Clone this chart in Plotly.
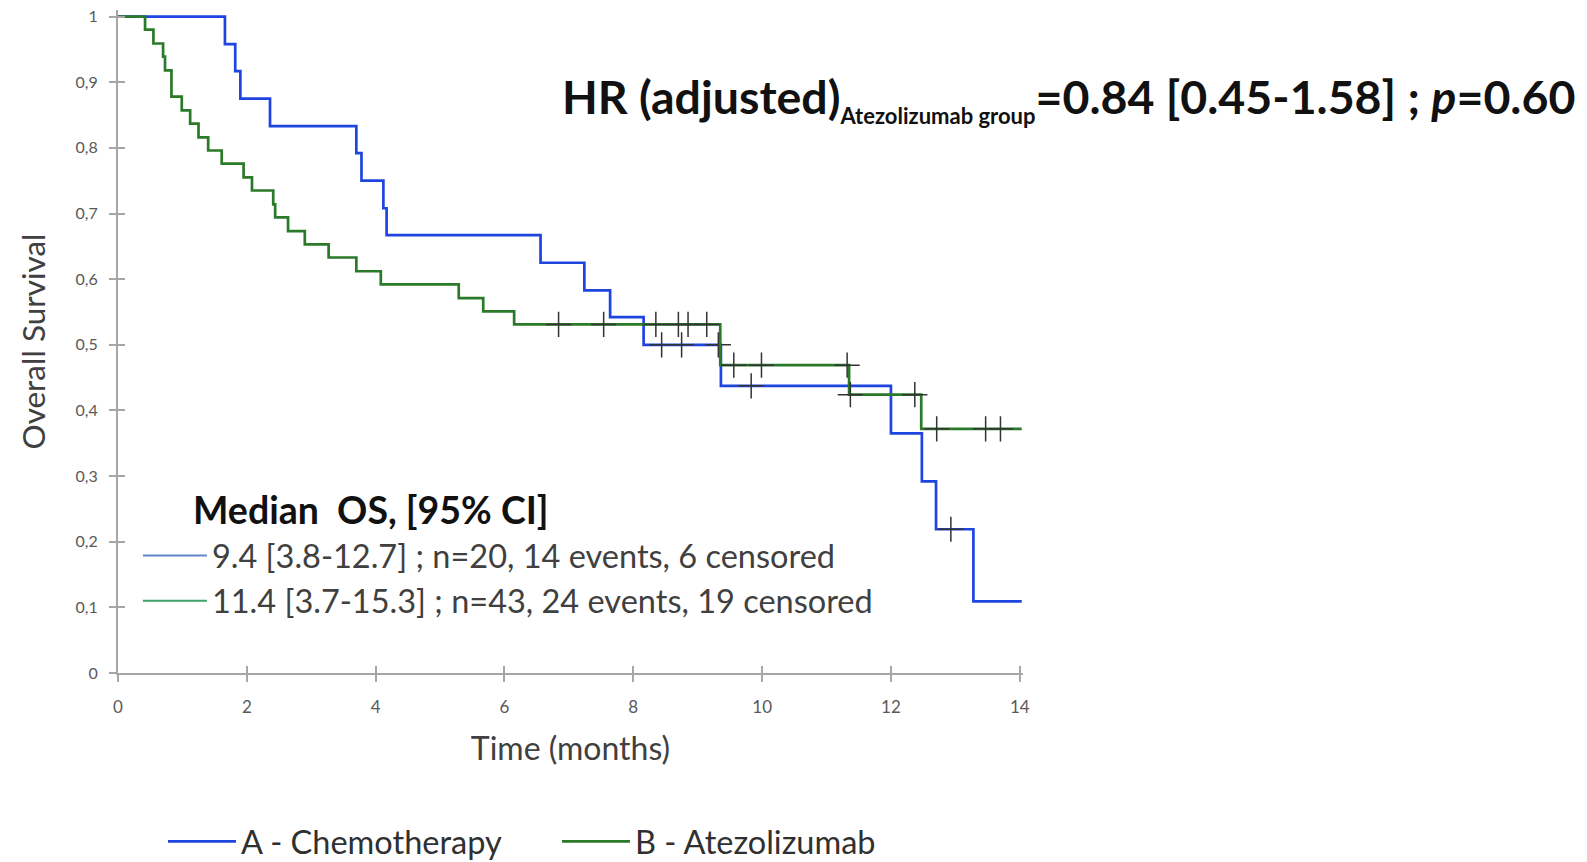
import numpy as np
import plotly.graph_objects as go

# ---------------- data ----------------
chemo_times  = [1.66, 1.82, 1.90, 2.36, 3.70, 3.78, 4.12, 4.17, 6.56, 7.24, 7.64, 8.16, 9.36, 12.00, 12.48, 12.70, 13.28]
chemo_surv   = [0.958, 0.917, 0.875, 0.833, 0.792, 0.750, 0.708, 0.667, 0.625, 0.583, 0.542, 0.500, 0.4375, 0.365, 0.292, 0.219, 0.109]
chemo_end    = 14.03
chemo_censor = [8.44, 8.75, 9.32, 9.83, 12.93]

atezo_times  = [0.42, 0.55, 0.70, 0.73, 0.83, 0.99, 1.12, 1.25, 1.40, 1.61, 1.95, 2.08, 2.41, 2.44,
                2.64, 2.90, 3.27, 3.70, 4.08, 5.29, 5.67, 6.15, 9.35, 11.35, 12.47]
atezo_surv   = [0.980, 0.959, 0.939, 0.918, 0.878, 0.857, 0.837, 0.816, 0.796, 0.776, 0.755, 0.735, 0.714, 0.694,
                0.673, 0.653, 0.633, 0.612, 0.592, 0.571, 0.551, 0.531, 0.469, 0.424, 0.372]
atezo_end    = 14.03
atezo_censor = [6.84, 7.54, 8.35, 8.70, 8.85, 9.14, 9.56, 9.99, 11.32, 11.37, 12.37, 12.71, 13.47, 13.70]

x_ticks = [0, 2, 4, 6, 8, 10, 12, 14]
y_ticks = [0, 0.1, 0.2, 0.3, 0.4, 0.5, 0.6, 0.7, 0.8, 0.9, 1]

series_names = ["A - Chemotherapy", "B - Atezolizumab"]
median_labels = ["9.4 [3.8-12.7] ; n=20, 14 events, 6 censored",
                 "11.4 [3.7-15.3] ; n=43, 24 events, 19 censored"]

BLUE = "#1f45e0"
GREEN = "#2a7a2a"
FONT = "Lato"

def km_xy(times, surv, end):
    x = [0.0] + list(times) + [end]
    y = [1.0] + list(surv) + [surv[-1]]
    return x, y

def surv_at(times, surv, t):
    idx = np.searchsorted(np.array(times), t, side="right")
    return 1.0 if idx == 0 else surv[idx - 1]

fig = go.Figure()

for name, times, surv, end, cens, col in [
    (series_names[0], chemo_times, chemo_surv, chemo_end, chemo_censor, BLUE),
    (series_names[1], atezo_times, atezo_surv, atezo_end, atezo_censor, GREEN),
]:
    x, y = km_xy(times, surv, end)
    fig.add_trace(go.Scatter(x=x, y=y, mode="lines", line=dict(color=col, width=2.7, shape="hv"),
                             name=name, legend="legend"))
    fig.add_trace(go.Scatter(x=cens, y=[surv_at(times, surv, t) for t in cens], mode="markers",
                             marker=dict(symbol="cross-thin", size=18, line=dict(color="#333333", width=1.5)),
                             showlegend=False, hoverinfo="skip"))

# inner "Median OS" legend entries
for lab, col in zip(median_labels, ["#6385c8", "#3ea066"]):
    fig.add_trace(go.Scatter(x=[None], y=[None], mode="lines", line=dict(color=col, width=2),
                             name=lab, legend="legend2"))

W, H = 1587, 862
L, R_px, T_px, B_px = 118, 1023.4, 10.4, 673
XMAX, YMAX = 14.05, 1.01

axis_common = dict(showgrid=False, zeroline=False, showline=True, linecolor="#a6a6a6", linewidth=2,
                   ticks="outside", ticklen=7, tickcolor="#a6a6a6", tickwidth=1.5)
fig.update_layout(
    width=W, height=H,
    margin=dict(l=L, r=W - R_px, t=T_px, b=H - B_px, pad=0, autoexpand=False),
    paper_bgcolor="white", plot_bgcolor="white",
    separators=", ",
    font=dict(family=FONT, color="#404040"),
    xaxis=dict(range=[0, XMAX], tickvals=x_ticks, ticklabelstandoff=11,
               tickfont=dict(size=17, color="#595959", family=FONT),
               title=dict(text="Time (months)", font=dict(size=32, color="#404040"), standoff=21),
               **axis_common),
    yaxis=dict(range=[0, YMAX], tickvals=y_ticks, ticklabelstandoff=8,
               tickfont=dict(size=16, color="#595959", family=FONT),
               title=dict(text="Overall Survival", font=dict(size=31.5, color="#404040"), standoff=21),
               **axis_common),
    # inner tick halves so ticks cross the axis lines
    xaxis2=dict(range=[0, XMAX], tickvals=x_ticks, overlaying="x", anchor="y", side="bottom",
                showgrid=False, zeroline=False, showline=False, showticklabels=False,
                ticks="inside", ticklen=7, tickcolor="#a6a6a6", tickwidth=1.5),
    yaxis2=dict(range=[0, YMAX], tickvals=y_ticks, overlaying="y", anchor="x", side="left",
                showgrid=False, zeroline=False, showline=False, showticklabels=False,
                ticks="inside", ticklen=7, tickcolor="#a6a6a6", tickwidth=1.5),
    legend=dict(orientation="h", xref="container", yref="container", x=0.1027, y=0.0235,
                xanchor="left", yanchor="middle",
                font=dict(size=32.5, color="#303030"), bgcolor="rgba(0,0,0,0)", entrywidth=311,
                itemwidth=68),
    legend2=dict(x=0.022, y=0.219, xanchor="left", yanchor="top", itemwidth=64,
                 font=dict(size=32.5, color="#404040"), bgcolor="rgba(0,0,0,0)", tracegroupgap=0),
)

# invisible trace to activate the secondary (tick) axes
fig.add_trace(go.Scatter(x=[None], y=[None], xaxis="x2", yaxis="y2", showlegend=False, hoverinfo="skip"))

def px_x(p):
    return (p - L) / (R_px - L)

def px_y(p):
    return (B_px - p) / (B_px - T_px)

fig.add_annotation(xref="paper", yref="paper", x=px_x(1578), y=px_y(99), xanchor="right", yanchor="middle",
                   showarrow=False,
                   text="<b>HR (adjusted)<sub><span style='font-size:22px'>Atezolizumab group</span></sub>"
                        "=0.84 [0.45-1.58] ; <i>p</i>=0.60</b>",
                   font=dict(size=46.5, color="#111111", family=FONT))
fig.add_annotation(xref="paper", yref="paper", x=px_x(191), y=px_y(510), xanchor="left", yanchor="middle",
                   showarrow=False, text="<b>Median  OS, [95% CI]</b>",
                   font=dict(size=37.5, color="#111111", family=FONT))

fig.write_html("out.html")
